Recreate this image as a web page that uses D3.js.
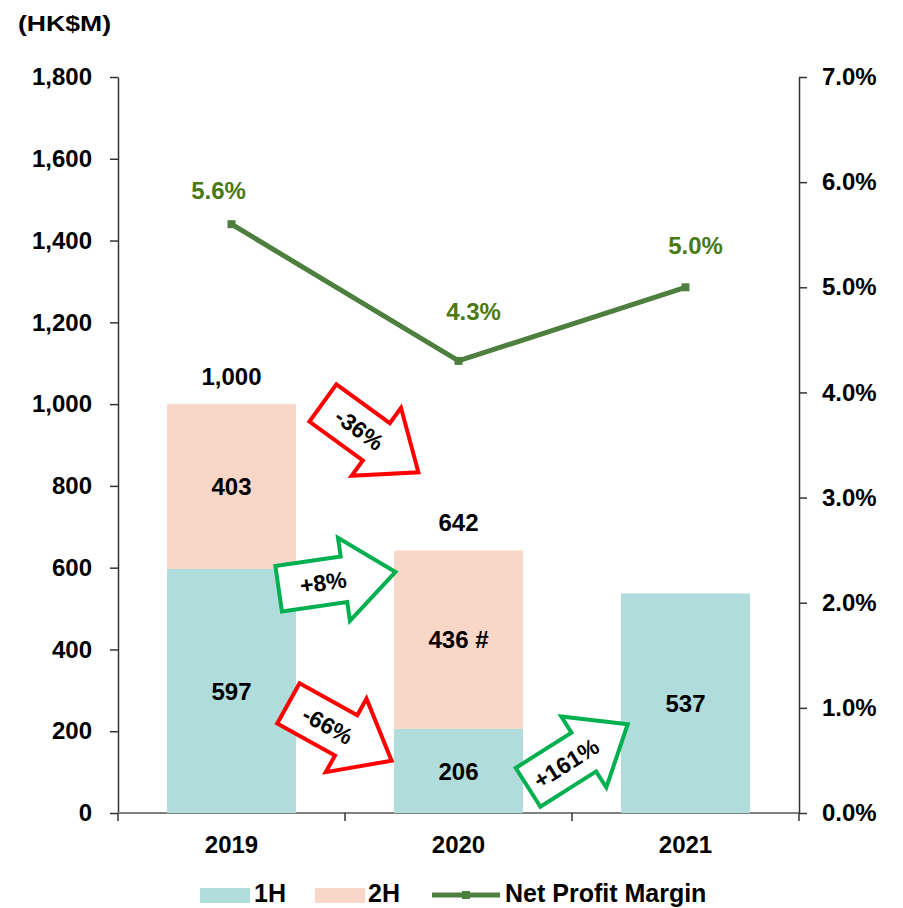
<!DOCTYPE html>
<html>
<head>
<meta charset="utf-8">
<script src="https://cdn.jsdelivr.net/npm/d3@7"></script>
<style>
  body { margin: 0; background: #fff; }
  text { font-family: "Liberation Sans", Arial, sans-serif; font-weight: bold; }
</style>
</head>
<body>
<div id="chart"></div>
<script>

// chart values
var years = ["2019", "2020", "2021"];
var firstHalf = [597, 206, 537];
var secondHalf = [403, 436, null];
var secondHalfNotes = ["", " #", ""];
var netMargin = [5.6, 4.3, 5.0];
var leftTicks = [0, 200, 400, 600, 800, 1000, 1200, 1400, 1600, 1800];
var rightTicks = [0, 1, 2, 3, 4, 5, 6, 7];
var changeLabels = ["-36%", "+8%", "-66%", "+161%"];

// where the change arrows sit (t = category offset from 2019, v = left axis value)
var arrowLayout = [
  {t: 0.613, v: 918, angle: 36},
  {t: 0.465, v: 569, angle: -8.2},
  {t: 0.478, v: 198, angle: 29},
  {t: 1.526, v: 140, angle: -32.4}
];
// nudges of the margin labels from their points
var marginLabelOffsets = [[-13, -25], [15, -41], [10, -33]];

ProfitChart = function(_parentElement) {
  this.parentElement = _parentElement;
  this.initVis();
};

ProfitChart.prototype.initVis = function() {
  var vis = this;

  vis.margin = {top: 77, right: 104, bottom: 95, left: 118};
  vis.width = 903 - vis.margin.left - vis.margin.right;
  vis.height = 908 - vis.margin.top - vis.margin.bottom;

  vis.root = d3.select(vis.parentElement).append("svg")
    .attr("width", 903)
    .attr("height", 908);

  vis.svg = vis.root.append("g")
    .attr("transform", "translate(" + vis.margin.left + "," + vis.margin.top + ")");

  vis.x = d3.scaleBand().domain(years).range([0, vis.width])
    .paddingInner(0.432).paddingOuter(0.216);
  vis.y = d3.scaleLinear().domain([0, 1800]).range([vis.height, 0]);
  vis.y2 = d3.scaleLinear().domain([0, 7]).range([vis.height, 0]);

  vis.data = years.map(function(d, i) {
    return {year: d, h1: firstHalf[i], h2: secondHalf[i], note: secondHalfNotes[i], margin: netMargin[i]};
  });

  vis.drawAxes();
  vis.drawBars();
  vis.drawLine();
  vis.drawArrows();
  vis.drawLegend();
};

ProfitChart.prototype.drawAxes = function() {
  var vis = this;

  var left = vis.svg.append("g")
    .call(d3.axisLeft(vis.y).tickValues(leftTicks).tickSize(8).tickSizeOuter(0)
      .tickPadding(18).tickFormat(d3.format(",")));
  left.selectAll("text").attr("font-size", 24).attr("font-family", null).attr("fill", "#000");
  left.selectAll("line, path").attr("stroke", "#333").attr("stroke-width", 1.5);

  var right = vis.svg.append("g")
    .attr("transform", "translate(" + vis.width + ",0)")
    .call(d3.axisRight(vis.y2).tickValues(rightTicks).tickSize(8).tickSizeOuter(0)
      .tickPadding(15).tickFormat(function(d) { return d3.format(".1f")(d) + "%"; }));
  right.selectAll("text").attr("font-size", 24).attr("font-family", null).attr("fill", "#000");
  right.selectAll("line, path").attr("stroke", "#333").attr("stroke-width", 1.5);

  // category axis
  var bottom = vis.svg.append("g")
    .attr("transform", "translate(0," + vis.height + ")")
    .call(d3.axisBottom(vis.x).tickSize(0).tickPadding(23));
  bottom.select(".domain").remove();
  bottom.selectAll("text").attr("font-size", 24).attr("font-family", null).attr("fill", "#000");

  bottom.append("line")
    .attr("x1", 0).attr("x2", vis.width)
    .attr("stroke", "#808080").attr("stroke-width", 2);

  bottom.selectAll(".bound")
    .data(d3.range(years.length + 1))
    .enter().append("line")
    .attr("class", "bound")
    .attr("x1", function(d) { return d * vis.x.step(); })
    .attr("x2", function(d) { return d * vis.x.step(); })
    .attr("y1", 0).attr("y2", 8)
    .attr("stroke", "#333").attr("stroke-width", 1.5);

  vis.root.append("text")
    .attr("x", 18).attr("y", 31)
    .attr("font-size", 22)
    .attr("textLength", 93)
    .attr("lengthAdjust", "spacingAndGlyphs")
    .text("(HK$M)");
};

ProfitChart.prototype.drawBars = function() {
  var vis = this;

  var g = vis.svg.selectAll(".year")
    .data(vis.data)
    .enter().append("g")
    .attr("class", "year");

  g.append("rect")
    .attr("x", function(d) { return vis.x(d.year); })
    .attr("width", vis.x.bandwidth())
    .attr("y", function(d) { return vis.y(d.h1); })
    .attr("height", function(d) { return vis.height - vis.y(d.h1); })
    .attr("fill", "#b0dcdb");

  g.filter(function(d) { return d.h2 != null; }).append("rect")
    .attr("x", function(d) { return vis.x(d.year); })
    .attr("width", vis.x.bandwidth())
    .attr("y", function(d) { return vis.y(d.h1 + d.h2); })
    .attr("height", function(d) { return vis.y(d.h1) - vis.y(d.h1 + d.h2); })
    .attr("fill", "#f9d7c8");

  var cx = function(d) { return vis.x(d.year) + vis.x.bandwidth() / 2; };

  g.append("text")
    .attr("x", cx)
    .attr("y", function(d) { return vis.y(d.h1 / 2); })
    .attr("dy", "0.36em")
    .attr("text-anchor", "middle")
    .attr("font-size", 24)
    .text(function(d) { return d3.format(",")(d.h1); });

  var stacked = g.filter(function(d) { return d.h2 != null; });

  stacked.append("text")
    .attr("x", cx)
    .attr("y", function(d) { return vis.y(d.h1 + d.h2 / 2); })
    .attr("dy", "0.36em")
    .attr("text-anchor", "middle")
    .attr("font-size", 24)
    .text(function(d) { return d3.format(",")(d.h2) + d.note; });

  stacked.append("text")
    .attr("x", cx)
    .attr("y", function(d) { return vis.y(d.h1 + d.h2) - 19; })
    .attr("text-anchor", "middle")
    .attr("font-size", 24)
    .text(function(d) { return d3.format(",")(d.h1 + d.h2); });
};

ProfitChart.prototype.drawLine = function() {
  var vis = this;

  var cx = function(d) { return vis.x(d.year) + vis.x.bandwidth() / 2; };

  var line = d3.line()
    .x(cx)
    .y(function(d) { return vis.y2(d.margin); });

  vis.svg.append("path")
    .datum(vis.data)
    .attr("d", line)
    .attr("fill", "none")
    .attr("stroke", "#4e7f3f")
    .attr("stroke-width", 5);

  vis.svg.selectAll(".pt")
    .data(vis.data)
    .enter().append("rect")
    .attr("class", "pt")
    .attr("x", function(d) { return cx(d) - 4; })
    .attr("y", function(d) { return vis.y2(d.margin) - 4; })
    .attr("width", 8).attr("height", 8)
    .attr("fill", "#4e7f3f");

  vis.svg.selectAll(".pt-label")
    .data(vis.data)
    .enter().append("text")
    .attr("class", "pt-label")
    .attr("x", function(d, i) { return cx(d) + marginLabelOffsets[i][0]; })
    .attr("y", function(d, i) { return vis.y2(d.margin) + marginLabelOffsets[i][1]; })
    .attr("text-anchor", "middle")
    .attr("font-size", 24)
    .attr("fill", "#4a7a12")
    .text(function(d) { return d3.format(".1f")(d.margin) + "%"; });
};

ProfitChart.prototype.drawArrows = function() {
  var vis = this;

  // block arrow, tail at 0, tip at 118
  var shape = "M0,-23 L66,-23 L66,-42 L118,0 L66,42 L66,23 L0,23 Z";
  var x0 = vis.x(years[0]) + vis.x.bandwidth() / 2;

  var a = vis.svg.selectAll(".change")
    .data(changeLabels)
    .enter().append("g")
    .attr("class", "change")
    .attr("transform", function(d, i) {
      var l = arrowLayout[i];
      return "translate(" + (x0 + l.t * vis.x.step()) + "," + vis.y(l.v) + ") rotate(" + l.angle + ")";
    });

  a.append("path")
    .attr("d", shape)
    .attr("transform", "translate(-59,0)")
    .attr("fill", "#fff")
    .attr("stroke", function(d) { return d.charAt(0) == "-" ? "#ff0000" : "#00b050"; })
    .attr("stroke-width", 4)
    .attr("stroke-linejoin", "miter");

  a.append("text")
    .attr("x", -14)
    .attr("dy", "0.36em")
    .attr("text-anchor", "middle")
    .attr("font-size", 23)
    .text(function(d) { return d; });
};

ProfitChart.prototype.drawLegend = function() {
  var vis = this;

  var lg = vis.root.append("g");

  lg.append("rect").attr("x", 200).attr("y", 888).attr("width", 50).attr("height", 15).attr("fill", "#b0dcdb");
  lg.append("text").attr("x", 254).attr("y", 902).attr("font-size", 25).text("1H");

  lg.append("rect").attr("x", 315).attr("y", 888).attr("width", 50).attr("height", 15).attr("fill", "#f9d7c8");
  lg.append("text").attr("x", 368).attr("y", 902).attr("font-size", 25).text("2H");

  lg.append("line").attr("x1", 432).attr("x2", 500).attr("y1", 895).attr("y2", 895)
    .attr("stroke", "#4e7f3f").attr("stroke-width", 5);
  lg.append("rect").attr("x", 462).attr("y", 891).attr("width", 8).attr("height", 8).attr("fill", "#4e7f3f");
  lg.append("text").attr("x", 505).attr("y", 902).attr("font-size", 25).text("Net Profit Margin");
};

var chart = new ProfitChart("#chart");

</script>
</body>
</html>
